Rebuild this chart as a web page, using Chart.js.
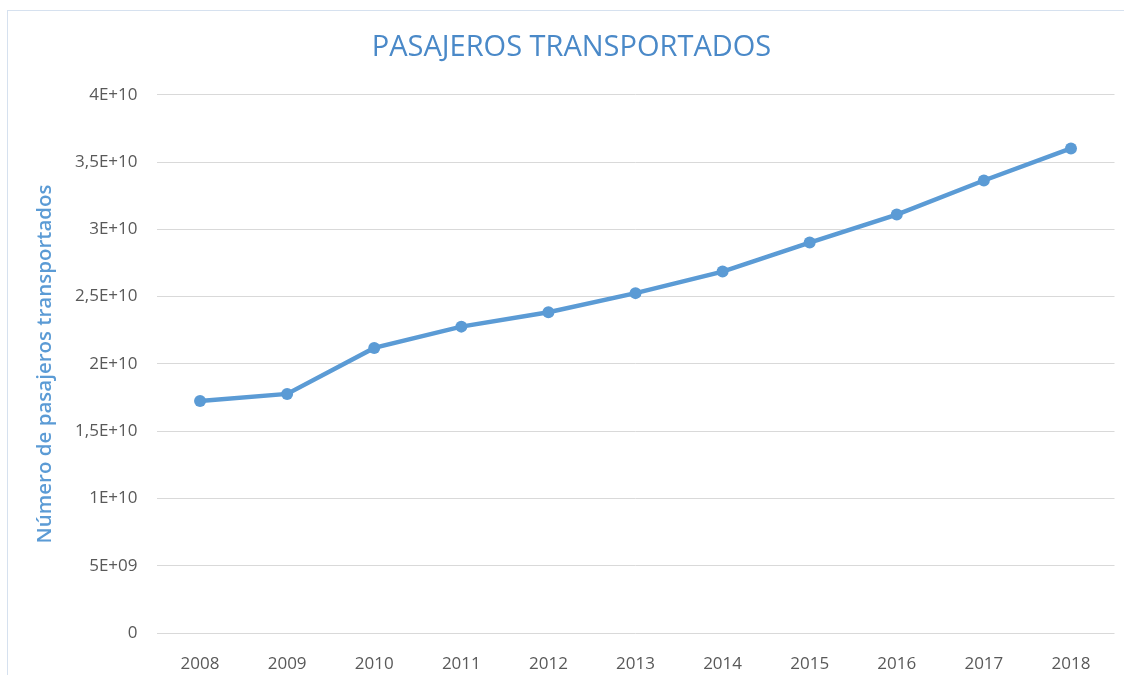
<!DOCTYPE html>
<html>
<head>
<meta charset="utf-8">
<script src="https://cdn.jsdelivr.net/npm/chart.js@4/dist/chart.umd.min.js"></script>
<style>
    body { margin: 0; background: #fff; }
    #wrap { position: relative; width: 1124px; height: 675px; }
    #frame {
        position: absolute; left: 7px; top: 10px; width: 1130px; height: 680px;
        border: 1px solid #d6e1ef; pointer-events: none;
    }
</style>
</head>
<body>
<div id="wrap">
    <canvas id="myChart" width="1124" height="675"></canvas>
    <div id="frame"></div>
</div>
<script>
'use strict';

// years on the x axis
let years = ['2008', '2009', '2010', '2011', '2012', '2013', '2014', '2015', '2016', '2017', '2018'];
// passengers carried
let pasajeros = [1.725e10, 1.777e10, 2.119e10, 2.277e10, 2.384e10, 2.526e10,
    2.686e10, 2.902e10, 3.110e10, 3.363e10, 3.601e10];
// y tick labels as Excel prints them
let yTickValues = [0, 5e9, 1e10, 1.5e10, 2e10, 2.5e10, 3e10, 3.5e10, 4e10];
let yTickLabels = ['0', '5E+09', '1E+10', '1,5E+10', '2E+10', '2,5E+10', '3E+10', '3,5E+10', '4E+10'];

const blue = '#5b9bd5';
const tickColor = '#595959';

var ctx = document.getElementById('myChart').getContext('2d');
var myChart = new Chart(ctx, {
    type: 'line',
    data: {
        labels: years,
        datasets: [{
            label: 'Pasajeros',
            data: pasajeros,
            borderColor: blue,
            backgroundColor: blue,
            borderWidth: 4.5,
            pointRadius: 6,
            pointHoverRadius: 6,
            pointBackgroundColor: blue,
            pointBorderWidth: 0,
            tension: 0
        }]
    },
    options: {
        responsive: false,
        animation: false,
        layout: {
            padding: { left: 28.5, right: 9.5, top: 0, bottom: 0 }
        },
        plugins: {
            legend: { display: false },
            tooltip: { enabled: false },
            title: {
                display: true,
                text: 'PASAJEROS TRANSPORTADOS',
                color: '#4a89c8',
                font: { family: 'Open Sans', size: 29, weight: 'normal' },
                padding: { top: 30, bottom: 30 }
            }
        },
        scales: {
            x: {
                offset: true,
                grid: { display: false },
                border: { display: false },
                ticks: {
                    color: tickColor,
                    font: { family: 'Open Sans', size: 17 },
                    padding: 13,
                    maxRotation: 0
                },
                afterFit: function (scale) { scale.height = 42; }
            },
            y: {
                min: 0,
                max: 4e10,
                grid: { color: '#d9d9d9', lineWidth: 1, drawTicks: false },
                border: { display: false },
                afterBuildTicks: function (scale) {
                    scale.ticks = yTickValues.map(v => ({ value: v }));
                },
                ticks: {
                    color: tickColor,
                    font: { family: 'Open Sans', size: 17 },
                    padding: 19,
                    callback: function (value) {
                        let i = yTickValues.indexOf(value);
                        return i >= 0 ? yTickLabels[i] : '';
                    }
                },
                title: {
                    display: true,
                    text: 'Número de pasajeros transportados',
                    color: blue,
                    font: { family: 'Open Sans', size: 20.5, weight: '600' },
                    padding: { top: 4, bottom: 0 }
                },
                afterFit: function (scale) { scale.width = 128; }
            }
        }
    }
});
</script>
</body>
</html>
